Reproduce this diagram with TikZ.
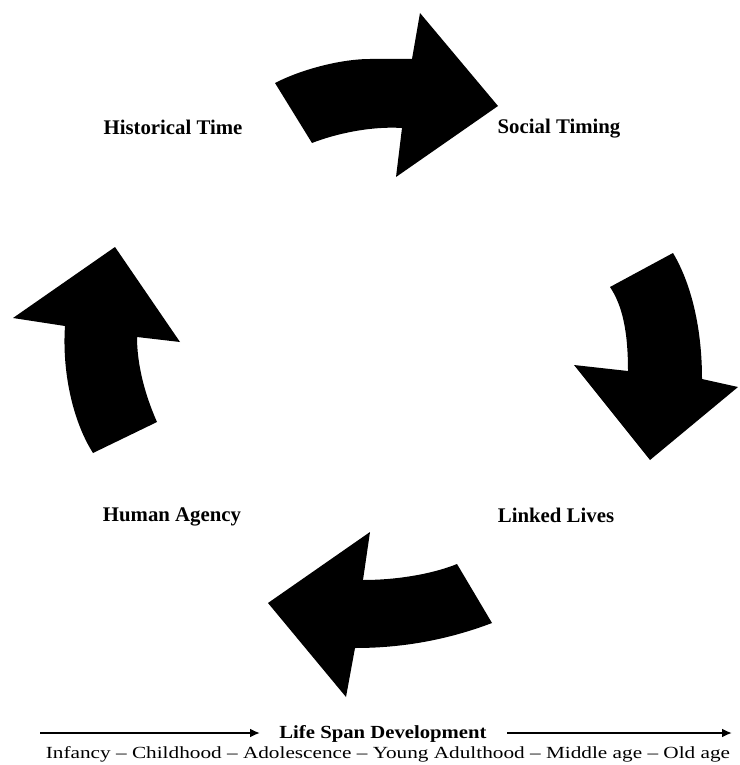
\documentclass[tikz,border=0pt]{standalone}
\usepackage{fontspec}
\setmainfont{Liberation Serif}
\newfontfamily\lsfont[FakeStretch=1.12,Ligatures=TeX]{Liberation Serif}
\newfontfamily\stagefont[FakeStretch=1.25,Ligatures=TeX]{Liberation Serif}
\usetikzlibrary{arrows.meta}
\begin{document}
\begin{tikzpicture}[x=1pt,y=-1pt,
  cyclearrow/.style={fill=black,draw=none},
  label/.style={font=\fontsize{20.8}{24}\selectfont\bfseries,anchor=base,inner sep=0pt},
  timeline/.style={line width=2pt,-{Latex[length=10pt,width=9pt]}}]
\useasboundingbox (0,0) rectangle (739,765);
% cycle arrows
\fill[cyclearrow] (275,83) .. controls (300,70) and (340,59) .. (370,59) -- (412,59) -- (420,13) -- (498,106) -- (396,177) -- (402,128) .. controls (370,126) and (335,134) .. (312,143) -- cycle;
\fill[cyclearrow] (610,287) -- (673,253) .. controls (692,285) and (702,330) .. (702,379) -- (738,387) -- (650,460) -- (574,365) -- (628,371) .. controls (628,330) and (622,305) .. cycle;
\fill[cyclearrow] (93,453) -- (157,422) .. controls (145,395) and (137,365) .. (137,337) -- (180,342) -- (115,247) -- (13,318) -- (65,326) .. controls (62,370) and (72,420) .. cycle;
\fill[cyclearrow] (457,564) -- (492,623) .. controls (455,637) and (410,648) .. (355,648) -- (346,697) -- (268,603) -- (370,532) -- (363,580) .. controls (400,580) and (435,573) .. cycle;
% labels
\node[label] (hist) at (173,135) {Historical Time};
\node[label] (soc) at (559,134) {Social Timing};
\node[label] (human) at (172,521) {Human Agency};
\node[label] (linked) at (556,522) {Linked Lives};
% life span
\node[anchor=base,inner sep=0pt,font=\lsfont\fontsize{18.5}{22}\selectfont\bfseries] (life) at (383,738) {Life Span Development};
\node[anchor=base,inner sep=0pt,font=\stagefont\fontsize{17}{20}\selectfont] (stages) at (388,758) {Infancy – Childhood – Adolescence – Young Adulthood – Middle age – Old age};
\coordinate (l1) at (40,733);
\coordinate (l2) at (260,733);
\coordinate (r1) at (507,733);
\coordinate (r2) at (732,733);
\draw[timeline] (l1) -- (l2);
\draw[timeline] (r1) -- (r2);
\end{tikzpicture}
\end{document}
